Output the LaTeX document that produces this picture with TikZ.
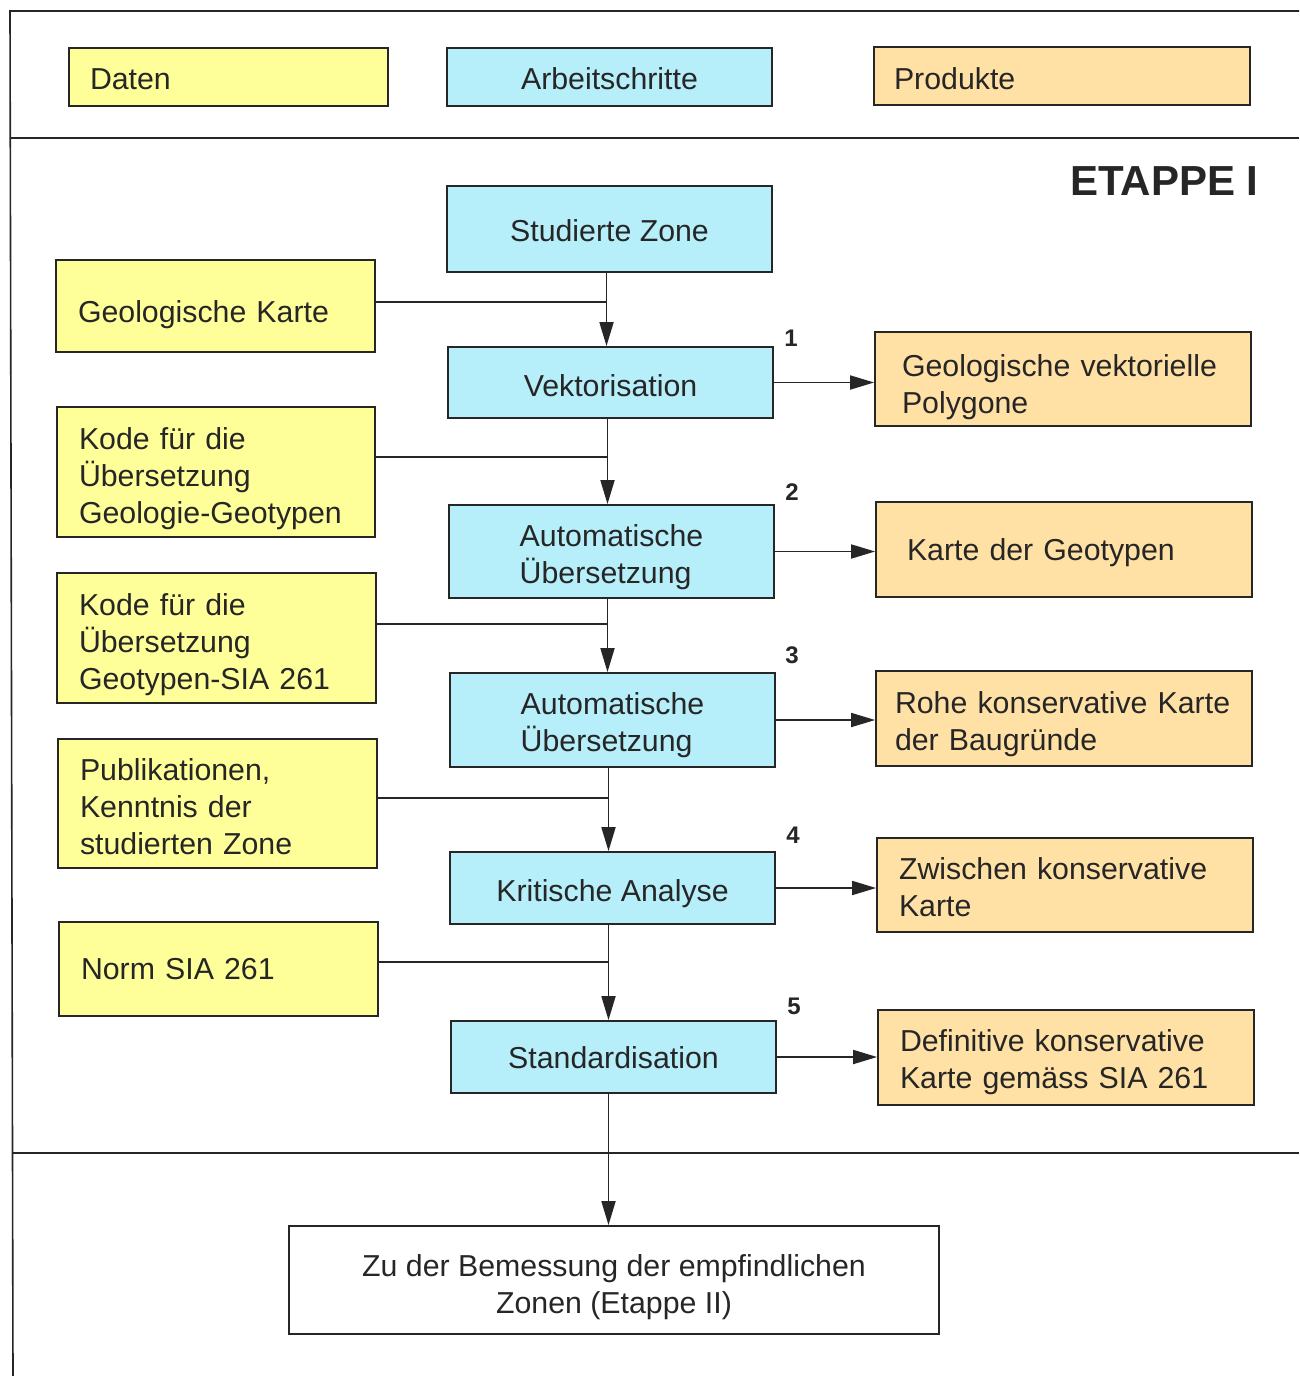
\documentclass[tikz,border=0pt]{standalone}
\usepackage{fontspec}
\setmainfont{Liberation Sans}
\usetikzlibrary{arrows.meta}
\definecolor{yel}{RGB}{255,255,153}
\definecolor{cya}{RGB}{182,238,250}
\definecolor{ora}{RGB}{255,225,166}
\definecolor{ink}{RGB}{38,38,38}
\gdef\shv{0}
\newcommand\tl[1]{\raisebox{-\shv pt}[\height][\depth]{#1}}
\begin{document}
\begin{tikzpicture}[x=1pt,y=-1pt,
  box/.style={draw=ink, line width=1.8pt, inner ysep=0pt, text=ink,
    font=\fontsize{30.3}{37}\selectfont},
  sh/.style={execute at begin node={\gdef\shv{#1}}},
  dat/.style={box, fill=yel, align=left},
  work/.style={box, fill=cya, align=left, minimum width=325pt},
  prod/.style={box, fill=ora, align=left},
  final/.style={box, fill=white, align=center},
  conn/.style={draw=ink, line width=1.8pt},
  arr/.style={conn, -{Triangle[length=24pt,width=14pt]}},
  num/.style={text=ink, font=\bfseries\fontsize{24}{28}\selectfont},
  frame/.style={draw=ink, line width=1.6pt}]
\useasboundingbox (0,0) rectangle (1299,1376);
\fill[white] (0,0) rectangle (1299,1376);
% frame
\draw[frame] (1299,11) -- (10,11) -- (13,1376);
\draw[frame] (10,138) -- (1299,138);
\draw[frame] (13,1153) -- (1299,1153);
% legend
\node[dat, sh=2, minimum width=319pt, minimum height=58pt, inner xsep=21pt, text width=277pt] (ldat) at (228.5,77) {\tl{Daten}};
\node[work, sh=2, minimum height=58pt, align=center] (lwork) at (609.5,77) {\tl{Arbeitschritte}};
\node[prod, sh=3, minimum width=376pt, minimum height=58pt, inner xsep=20pt, text width=336pt] (lprod) at (1062,76) {\tl{Produkte}};
% title
\node[text=ink, font=\bfseries\fontsize{42}{48}\selectfont, anchor=east] (etappe) at (1262,181) {ETAPPE I};
% middle column
\node[work, sh=2, minimum height=86pt, align=center] (stud) at (609.5,229) {\tl{Studierte Zone}};
\node[work, sh=3, minimum height=71pt, align=center] (vek) at (610.5,382.5) {\tl{Vektorisation}};
\node[work, sh=6, minimum height=93pt] (au1) at (611.5,551.5) {\tl{Automatische}\\\tl{Übersetzung}};
\node[work, sh=5, minimum height=94pt] (au2) at (612.5,720) {\tl{Automatische}\\\tl{Übersetzung}};
\node[work, sh=6, minimum height=72pt, align=center] (krit) at (612.5,888) {\tl{Kritische Analyse}};
\node[work, sh=1, minimum height=72pt, align=center] (std) at (613.5,1057) {\tl{Standardisation}};
\node[final, sh=7, minimum width=650pt, minimum height=108pt] (fin) at (614,1280) {\tl{Zu der Bemessung der empfindlichen}\\\tl{Zonen (Etappe II)}};
% left column
\node[dat, sh=9, minimum width=319pt, minimum height=92pt, inner xsep=22pt, text width=275pt] (geo) at (215.5,306) {\tl{Geologische Karte}};
\node[dat, sh=7, minimum width=318pt, minimum height=130pt, inner xsep=22pt, text width=274pt] (k1) at (216,472) {\tl{Kode für die}\\\tl{Übersetzung}\\\tl{Geologie-Geotypen}};
\node[dat, sh=7, minimum width=319pt, minimum height=130pt, inner xsep=22pt, text width=275pt] (k2) at (216.5,638) {\tl{Kode für die}\\\tl{Übersetzung}\\\tl{Geotypen-SIA 261}};
\node[dat, sh=3, minimum width=319pt, minimum height=129pt, inner xsep=22pt, text width=275pt] (pub) at (217.5,803.5) {\tl{Publikationen,}\\\tl{Kenntnis der}\\\tl{studierten Zone}};
\node[dat, sh=0, minimum width=319pt, minimum height=94pt, inner xsep=22pt, text width=275pt] (norm) at (218.5,969) {\tl{Norm SIA 261}};
% right column
\node[prod, sh=8, minimum width=376pt, minimum height=94pt, inner xsep=27pt, text width=322pt] (r1) at (1063,379) {\tl{Geologische vektorielle}\\\tl{Polygone}};
\node[prod, sh=3, minimum width=376pt, minimum height=95pt, inner xsep=31pt, text width=314pt] (r2) at (1064,549.5) {\tl{Karte der Geotypen}};
\node[prod, sh=6, minimum width=376pt, minimum height=95pt, inner xsep=19pt, text width=338pt] (r3) at (1064,718.5) {\tl{Rohe konservative Karte}\\\tl{der Baugründe}};
\node[prod, sh=2, minimum width=376pt, minimum height=94pt, inner xsep=22pt, text width=332pt] (r4) at (1065,885) {\tl{Zwischen konservative}\\\tl{Karte}};
\node[prod, sh=5, minimum width=376pt, minimum height=95pt, inner xsep=22pt, text width=332pt] (r5) at (1066,1057.5) {\tl{Definitive konservative}\\\tl{Karte gemäss SIA 261}};
% numbers
\node[num] (n1) at (791,338) {1};
\node[num] (n2) at (792,492) {2};
\node[num] (n3) at (792,655) {3};
\node[num] (n4) at (793,835) {4};
\node[num] (n5) at (794,1006) {5};
% trunk
\draw[arr] ([xshift=-3pt]stud.south) -- ([xshift=-3pt]stud.south |- vek.north);
\draw[arr] ([xshift=-3pt]vek.south) -- ([xshift=-3pt]vek.south |- au1.north);
\draw[arr] ([xshift=-4pt]au1.south) -- ([xshift=-4pt]au1.south |- au2.north);
\draw[arr] ([xshift=-4pt]au2.south) -- ([xshift=-4pt]au2.south |- krit.north);
\draw[arr] ([xshift=-4pt]krit.south) -- ([xshift=-4pt]krit.south |- std.north);
\draw[arr] ([xshift=-5pt]std.south) -- ([xshift=-5pt]std.south |- fin.north);
% inputs from the left
\draw[conn] ([yshift=4pt]geo.east) -- ([yshift=4pt,xshift=-3pt]geo.east -| stud.south);
\draw[conn] ([yshift=15pt]k1.east) -- ([yshift=15pt,xshift=-3pt]k1.east -| vek.south);
\draw[conn] ([yshift=14pt]k2.east) -- ([yshift=14pt,xshift=-4pt]k2.east -| au1.south);
\draw[conn] ([yshift=5.5pt]pub.east) -- ([yshift=5.5pt,xshift=-4pt]pub.east -| au2.south);
\draw[conn] ([yshift=7pt]norm.east) -- ([yshift=7pt,xshift=-4pt]norm.east -| krit.south);
% products
\draw[arr] (vek.east) -- (vek.east -| r1.west);
\draw[arr] (au1.east) -- (au1.east -| r2.west);
\draw[arr] (au2.east) -- (au2.east -| r3.west);
\draw[arr] (krit.east) -- (krit.east -| r4.west);
\draw[arr] (std.east) -- (std.east -| r5.west);
\end{tikzpicture}
\end{document}
